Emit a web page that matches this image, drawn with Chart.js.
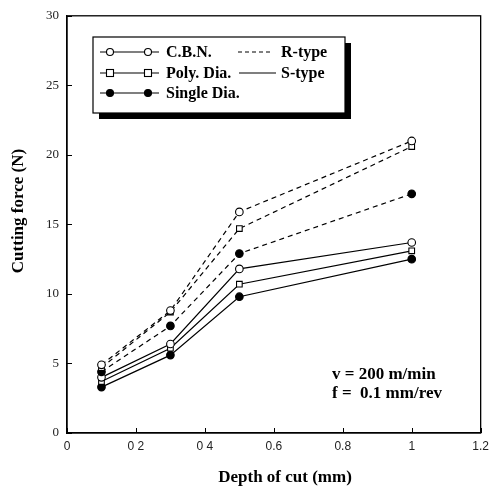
<!DOCTYPE html>
<html>
<head>
<meta charset="utf-8">
<script src="https://cdn.jsdelivr.net/npm/chart.js@4"></script>
<style>
html,body{margin:0;padding:0;background:#fff;}
canvas{display:block;}
</style>
</head>
<body>
<canvas id="c" width="495" height="490"></canvas>
<script>
// ---- data ----
const depthOfCut = [0.1, 0.3, 0.5, 1.0];
const rCBN    = [4.9, 8.8, 15.9, 21.0];
const rPoly   = [4.7, 8.7, 14.7, 20.6];
const rSingle = [4.4, 7.7, 12.9, 17.2];
const sCBN    = [4.0, 6.4, 11.8, 13.7];
const sPoly   = [3.7, 6.1, 10.7, 13.1];
const sSingle = [3.3, 5.6, 9.8, 12.5];
const xTickLabels = ['0', '0 2', '0 4', '0.6', '0.8', '1', '1.2'];
const yTickLabels = ['0', '5', '10', '15', '20', '25', '30'];
const toolNames = ['C.B.N.', 'Poly. Dia.', 'Single Dia.'];
const typeNames = ['R-type', 'S-type'];
const noteLines = ['v = 200 m/min', 'f =  0.1 mm/rev'];
const xTitle = 'Depth of cut (mm)';
const yTitle = 'Cutting force (N)';

const pts = arr => arr.map((v, i) => ({x: depthOfCut[i], y: v}));
const SERIF = '"Liberation Serif", "Times New Roman", serif';
const SANS = '"Liberation Sans", Arial, sans-serif';

function ds(label, arr, style, dashed) {
  return {
    label: label,
    data: pts(arr),
    borderColor: '#000',
    borderWidth: 1.2,
    borderDash: dashed ? [5, 4] : [],
    pointStyle: style === 'square' ? 'rect' : 'circle',
    pointRadius: style === 'square' ? 4 : 3.8,
    pointBackgroundColor: style === 'filled' ? '#000' : '#fff',
    pointBorderColor: '#000',
    pointBorderWidth: 1.1,
    tension: 0,
    fill: false
  };
}

const decor = {
  id: 'decor',
  afterDraw(chart) {
    const {ctx, chartArea: a, scales: {x, y}} = chart;
    ctx.save();
    ctx.strokeStyle = '#000';
    ctx.lineWidth = 1.3;
    ctx.setLineDash([]);
    ctx.strokeRect(a.left, a.top, a.right - a.left, a.bottom - a.top);
    // inward ticks
    ctx.lineWidth = 1;
    ctx.beginPath();
    x.ticks.forEach(t => {
      const px = Math.round(x.getPixelForValue(t.value)) + 0.5;
      ctx.moveTo(px, a.bottom); ctx.lineTo(px, a.bottom - 5);
    });
    y.ticks.forEach(t => {
      const py = Math.round(y.getPixelForValue(t.value)) + 0.5;
      ctx.moveTo(a.left, py); ctx.lineTo(a.left + 5, py);
    });
    ctx.stroke();

    // axis titles
    ctx.fillStyle = '#000';
    ctx.font = 'bold 17px ' + SERIF;
    ctx.textAlign = 'center';
    ctx.textBaseline = 'middle';
    ctx.fillText(xTitle, 285, 478);
    ctx.save();
    ctx.translate(19, 211);
    ctx.rotate(-Math.PI / 2);
    ctx.fillText(yTitle, 0, 0);
    ctx.restore();

    // legend box with shadow
    const bx = 93, by = 37, bw = 252, bh = 76;
    ctx.fillStyle = '#000';
    ctx.fillRect(bx + 6, by + 6, bw, bh);
    ctx.fillStyle = '#fff';
    ctx.fillRect(bx, by, bw, bh);
    ctx.lineWidth = 1.2;
    ctx.strokeRect(bx, by, bw, bh);

    const rows = [52, 73, 93];
    const styles = ['open', 'square', 'filled'];
    ctx.font = 'bold 16px ' + SERIF;
    ctx.textBaseline = 'middle';
    ctx.textAlign = 'left';
    rows.forEach((ry, i) => {
      ctx.strokeStyle = '#000';
      ctx.lineWidth = 1.1;
      ctx.beginPath(); ctx.moveTo(100, ry); ctx.lineTo(159, ry); ctx.stroke();
      [110, 148].forEach(mx => {
        ctx.beginPath();
        if (styles[i] === 'square') {
          ctx.fillStyle = '#fff';
          ctx.fillRect(mx - 3.5, ry - 3.5, 7, 7);
          ctx.strokeRect(mx - 3.5, ry - 3.5, 7, 7);
        } else {
          ctx.arc(mx, ry, 3.5, 0, Math.PI * 2);
          ctx.fillStyle = styles[i] === 'filled' ? '#000' : '#fff';
          ctx.fill(); ctx.stroke();
        }
      });
      ctx.fillStyle = '#000';
      ctx.fillText(toolNames[i], 166, ry + 1);
    });
    // type legend
    ctx.lineWidth = 1.1;
    ctx.setLineDash([4, 3]);
    ctx.beginPath(); ctx.moveTo(238, rows[0]); ctx.lineTo(271, rows[0]); ctx.stroke();
    ctx.setLineDash([]);
    ctx.beginPath(); ctx.moveTo(239, rows[1]); ctx.lineTo(276, rows[1]); ctx.stroke();
    ctx.fillStyle = '#000';
    ctx.fillText(typeNames[0], 281, rows[0] + 1);
    ctx.fillText(typeNames[1], 281, rows[1] + 1);

    // note
    ctx.font = 'bold 17px ' + SERIF;
    ctx.fillText(noteLines[0], 332, 375);
    ctx.fillText(noteLines[1], 332, 394);
    ctx.restore();
  }
};

new Chart(document.getElementById('c'), {
  type: 'line',
  data: {
    datasets: [
      ds('C.B.N. R-type', rCBN, 'open', true),
      ds('Poly. Dia. R-type', rPoly, 'square', true),
      ds('Single Dia. R-type', rSingle, 'filled', true),
      ds('C.B.N. S-type', sCBN, 'open', false),
      ds('Poly. Dia. S-type', sPoly, 'square', false),
      ds('Single Dia. S-type', sSingle, 'filled', false)
    ]
  },
  options: {
    responsive: false,
    animation: false,
    layout: {padding: {top: 13, right: 9, left: 0, bottom: 0}},
    plugins: {legend: {display: false}, tooltip: {enabled: false}},
    scales: {
      x: {
        type: 'linear', min: 0, max: 1.2,
        ticks: {
          stepSize: 0.2,
          color: '#222',
          padding: 6,
          font: {family: SANS, size: 12},
          callback: (v, i) => xTickLabels[i]
        },
        grid: {drawOnChartArea: false, drawTicks: false},
        border: {display: true, color: '#000', width: 1.3},
        title: {display: false, text: xTitle},
        afterFit: s => { s.height = 57; }
      },
      y: {
        min: 0, max: 30,
        ticks: {
          stepSize: 5,
          color: '#222',
          padding: 8,
          font: {family: SERIF, size: 13},
          callback: (v, i) => yTickLabels[i]
        },
        grid: {drawOnChartArea: false, drawTicks: false},
        border: {display: true, color: '#000', width: 1.3},
        title: {display: false, text: yTitle},
        afterFit: s => { s.width = 67; }
      }
    }
  },
  plugins: [decor]
});
</script>
</body>
</html>
